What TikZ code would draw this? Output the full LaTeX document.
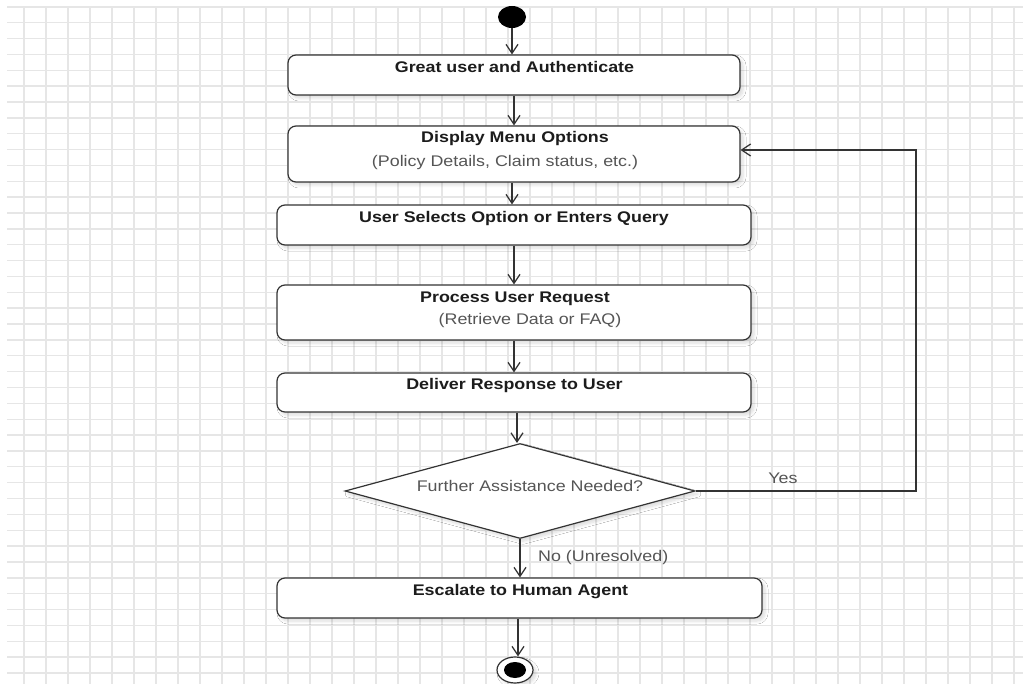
\documentclass[tikz,border=0pt]{standalone}
\usepackage{fontspec}
\setmainfont{Liberation Sans}
\usepackage{graphicx}
\usetikzlibrary{arrows.meta,shapes.geometric,shadows.blur}

\definecolor{gridgray}{HTML}{E6E6E6}
\definecolor{ink}{HTML}{333333}
\definecolor{titleink}{HTML}{1C1C1C}
\definecolor{subink}{HTML}{555555}

% text is set slightly wider than the font's natural width
\newcommand{\wide}[1]{\scalebox{1.16}[1]{#1}}

\begin{document}
\begin{tikzpicture}[x=1pt,y=-1pt,
  gridline/.style={draw=gridgray,line width=1.4pt},
  softshadow/.style={blur shadow={shadow xshift=3pt,shadow yshift=-3pt,shadow opacity=14,shadow blur steps=6,shadow blur radius=3pt}},
  actbox/.style={draw=ink,line width=1.2pt,rounded corners=8pt,fill=white,inner sep=0pt,softshadow},
  decision/.style={diamond,draw=ink,line width=1.2pt,fill=white,inner sep=0pt,softshadow},
  title/.style={anchor=base,inner sep=0pt,text=titleink,font=\bfseries\fontsize{15.4}{18}\selectfont},
  subtitle/.style={anchor=base,inner sep=0pt,text=subink,font=\fontsize{15.4}{18}\selectfont},
  guard/.style={inner sep=0pt,text=subink,font=\fontsize{15.4}{18}\selectfont},
  flow/.style={draw=ink,line width=1.2pt,-{Straight Barb[length=9pt,width=12pt]}},
]
% page and background grid
\useasboundingbox (0,0) rectangle (1023,684);
\fill[white] (0,0) rectangle (1023,684);
\foreach \k in {0,...,42} {
  \draw[gridline] (7,{6.85+15.86*\k}) -- (1023,{6.85+15.86*\k});
}
\foreach \k in {0,...,45} {
  \draw[gridline] ({24+22*\k},7) -- ({24+22*\k},684);
}

% initial node
\node[ellipse,fill=black,minimum width=28pt,minimum height=22pt,inner sep=0pt] (start) at (512,17) {};

% activities
\node[actbox,minimum width=452pt,minimum height=40pt] (b1) at (514,75) {};
\node[title] (t1) at (514.5,72.5) {\wide{Great user and Authenticate}};

\node[actbox,minimum width=452pt,minimum height=56pt] (b2) at (514,154) {};
\node[title] (t2) at (515,142.5) {\wide{Display Menu Options}};
\node[subtitle] (s2) at (505,166.5) {\wide{(Policy Details, Claim status, etc.)}};

\node[actbox,minimum width=474pt,minimum height=40pt] (b3) at (514,225) {};
\node[title] (t3) at (514,222.5) {\wide{User Selects Option or Enters Query}};

\node[actbox,minimum width=474pt,minimum height=55pt] (b4) at (514,312.5) {};
\node[title] (t4) at (515,302.5) {\wide{Process User Request}};
\node[subtitle] (s4) at (530,324.5) {\wide{(Retrieve Data or FAQ)}};

\node[actbox,minimum width=474pt,minimum height=39pt] (b5) at (514,392.5) {};
\node[title] (t5) at (514.5,389.5) {\wide{Deliver Response to User}};

% decision
\node[decision,minimum width=350pt,minimum height=95pt] (d) at (520,491) {};
\node[subtitle] (dt) at (530,491.5) {\wide{Further Assistance Needed?}};

\node[actbox,minimum width=485pt,minimum height=40pt] (b6) at (519.5,598) {};
\node[title] (t6) at (520.5,595.5) {\wide{Escalate to Human Agent}};

% final node
\node[ellipse,draw=ink,line width=1.2pt,fill=white,minimum width=36pt,minimum height=26pt,inner sep=0pt,softshadow] (stop) at (515,670) {};
\node[ellipse,fill=black,minimum width=22pt,minimum height=16pt,inner sep=0pt] (stopdot) at (stop.center) {};

% guard labels
\node[guard,anchor=base] (yes) at (783,483.5) {\wide{Yes}};
\node[guard,anchor=base west] (no) at (538,561.5) {\wide{No (Unresolved)}};

% loop corner
\coordinate (loopc) at (916,150);

% control flow
\draw[flow] (start) -- (start |- b1.north);
\draw[flow] (b1.south) -- (b1.south |- b2.north);
\draw[flow] ([xshift=-2pt]b2.south) -- ([xshift=-2pt]b2.south |- b3.north);
\draw[flow] (b3.south) -- (b3.south |- b4.north);
\draw[flow] (b4.south) -- (b4.south |- b5.north);
\draw[flow] ([xshift=3pt]b5.south) -- ([xshift=3pt]b5.south |- d.north);
\draw[flow] (d.south) -- (d.south |- b6.north);
\draw[flow] ([xshift=-1.5pt]b6.south) -- ([xshift=-1.5pt]b6.south |- stop.north);
\draw[flow] (d.east) -- (loopc |- d.east) -- (loopc) -- (b2.east |- loopc);
\end{tikzpicture}
\end{document}
